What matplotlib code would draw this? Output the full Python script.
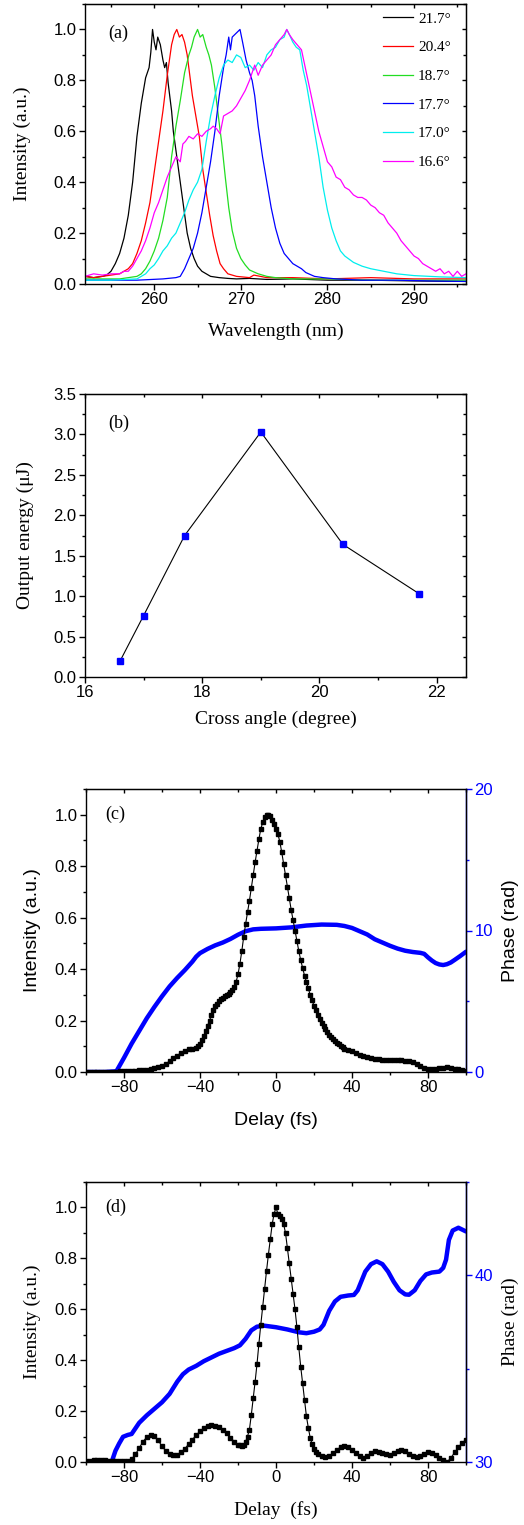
import numpy as np
import matplotlib
matplotlib.use("Agg")
import matplotlib.pyplot as plt
from matplotlib.ticker import MultipleLocator

SERIF = "Liberation Serif"
SANS = "Liberation Sans"
plt.rcParams["font.family"] = SANS

# ---------------- (a) spectra ----------------
wl_k = [252, 253, 254, 254.5, 255, 255.5, 256, 256.5, 257, 257.5,
        258, 258.5, 259, 259.4, 259.6, 259.8, 260.0, 260.2, 260.4, 260.7,
        261.0, 261.2, 261.4, 261.6, 262.0, 262.2, 262.6, 263.0, 263.4, 263.8,
        264.2, 264.6, 265.0, 265.5, 266.0, 266.5, 267.5, 268.5, 269.5, 271,
        273, 276, 280, 285, 290, 296]
in_k = [0.03, 0.025, 0.03, 0.035, 0.05, 0.08, 0.12, 0.18, 0.27, 0.40,
        0.58, 0.71, 0.81, 0.85, 0.91, 1.0, 0.95, 0.92, 0.97, 0.94,
        0.88, 0.85, 0.87, 0.79, 0.68, 0.60, 0.50, 0.40, 0.30, 0.20,
        0.14, 0.10, 0.07, 0.05, 0.04, 0.03, 0.025, 0.022, 0.02, 0.022,
        0.018, 0.02, 0.015, 0.015, 0.012, 0.01]

wl_r = [252, 253, 254, 255, 256, 256.5, 257, 257.5, 258, 258.5,
        259, 259.5, 260, 260.5, 261, 261.5, 262, 262.3, 262.6, 262.9,
        263.2, 263.5, 263.8, 264.1, 264.4, 264.8, 265.2, 265.6, 266.0, 266.4,
        266.8, 267.2, 267.6, 268.0, 268.5, 269.5, 271, 271.5, 273, 276,
        280, 285, 290, 296]
in_r = [0.03, 0.025, 0.03, 0.035, 0.04, 0.05, 0.06, 0.08, 0.12, 0.17,
        0.24, 0.32, 0.44, 0.56, 0.68, 0.82, 0.94, 0.98, 1.0, 0.97,
        0.98, 0.95, 0.90, 0.82, 0.74, 0.66, 0.58, 0.45, 0.36, 0.27,
        0.19, 0.13, 0.08, 0.06, 0.04, 0.03, 0.025, 0.035, 0.025, 0.025,
        0.02, 0.025, 0.02, 0.02]

wl_g = [252, 254, 256, 257, 258, 258.5, 259, 259.5, 260, 260.5,
        261, 261.5, 262, 262.5, 263, 263.5, 264, 264.3, 264.6, 265.0,
        265.3, 265.6, 266.0, 266.3, 266.6, 267.0, 267.4, 267.8, 268.2, 268.6,
        269.0, 269.5, 270, 270.5, 271, 272, 273, 274, 276, 280,
        285, 290, 296]
in_g = [0.02, 0.02, 0.02, 0.025, 0.03, 0.04, 0.06, 0.09, 0.13, 0.18,
        0.25, 0.34, 0.50, 0.62, 0.72, 0.83, 0.90, 0.93, 0.97, 1.0,
        0.97, 0.98, 0.93, 0.90, 0.86, 0.77, 0.66, 0.55, 0.42, 0.30,
        0.21, 0.14, 0.10, 0.075, 0.055, 0.04, 0.03, 0.025, 0.02, 0.02,
        0.015, 0.015, 0.015]

wl_b = [252, 255, 258, 261, 262.5, 263, 263.5, 264, 264.5, 265,
        265.5, 266, 266.5, 267, 267.5, 268, 268.3, 268.6, 268.8, 269.0,
        269.3, 269.6, 269.9, 270.2, 270.6, 271.0, 271.3, 271.6, 272.0, 272.5,
        273.0, 273.5, 274.0, 274.5, 275.0, 275.5, 276.0, 276.5, 277.0, 277.5,
        278.5, 279.5, 281, 284, 288, 292, 296]
in_b = [0.015, 0.015, 0.015, 0.02, 0.025, 0.03, 0.06, 0.10, 0.14, 0.20,
        0.28, 0.38, 0.48, 0.60, 0.74, 0.85, 0.90, 0.97, 0.92, 0.97,
        0.98, 0.99, 1.0, 0.95, 0.88, 0.83, 0.80, 0.74, 0.62, 0.50,
        0.40, 0.30, 0.22, 0.16, 0.12, 0.10, 0.08, 0.07, 0.06, 0.045,
        0.03, 0.025, 0.02, 0.015, 0.015, 0.012, 0.01]

wl_c = [252, 255, 258, 258.5, 259, 259.5, 260, 260.5, 261, 261.5,
        262, 262.5, 263, 263.5, 264, 264.5, 265, 265.5, 266, 266.5,
        267, 267.5, 268, 268.5, 269, 269.5, 270, 270.5, 271, 271.5,
        272, 272.5, 273, 273.5, 274, 274.5, 275, 275.3, 275.6, 276,
        276.4, 276.8, 277.2, 277.6, 278, 278.5, 279, 279.5, 280, 280.5,
        281, 281.5, 282, 283, 284, 285, 286.5, 288, 290, 293,
        296]
in_c = [0.015, 0.015, 0.02, 0.03, 0.04, 0.06, 0.075, 0.10, 0.13, 0.15,
        0.18, 0.20, 0.24, 0.28, 0.33, 0.37, 0.40, 0.45, 0.56, 0.66,
        0.74, 0.81, 0.86, 0.88, 0.87, 0.90, 0.89, 0.85, 0.86, 0.84,
        0.87, 0.85, 0.90, 0.92, 0.93, 0.96, 0.97, 1.0, 0.98, 0.95,
        0.93, 0.92, 0.84, 0.78, 0.70, 0.60, 0.50, 0.38, 0.29, 0.22,
        0.17, 0.13, 0.11, 0.085, 0.07, 0.06, 0.05, 0.04, 0.033, 0.028,
        0.025]

wl_m = [252, 253, 254, 255, 256, 256.5, 257, 257.5, 258, 258.5,
        259, 259.5, 260, 260.5, 261, 261.5, 262, 262.5, 263, 263.3,
        263.6, 264, 264.5, 265, 265.5, 266, 266.5, 266.8, 267.2, 267.6,
        268, 268.5, 269, 269.5, 270, 270.5, 271, 271.3, 271.6, 272,
        272.5, 273, 273.5, 274, 274.5, 275, 275.3, 275.6, 276, 276.5,
        277, 277.5, 278, 278.5, 279, 279.5, 280, 280.5, 281, 281.5,
        282, 282.5, 283, 283.5, 284, 284.5, 285, 285.5, 286, 286.5,
        287, 287.5, 288, 288.5, 289, 289.5, 290, 290.5, 291, 291.5,
        292, 292.5, 293, 293.5, 294, 294.5, 295, 295.5, 296]
in_m = [0.03, 0.04, 0.035, 0.04, 0.04, 0.05, 0.05, 0.07, 0.10, 0.13,
        0.17, 0.22, 0.28, 0.32, 0.37, 0.42, 0.46, 0.50, 0.48, 0.55,
        0.56, 0.58, 0.57, 0.59, 0.58, 0.60, 0.61, 0.62, 0.61, 0.59,
        0.66, 0.67, 0.68, 0.70, 0.73, 0.76, 0.80, 0.83, 0.86, 0.82,
        0.86, 0.88, 0.90, 0.94, 0.96, 0.98, 1.0, 0.98, 0.96, 0.94,
        0.92, 0.84, 0.76, 0.68, 0.60, 0.54, 0.48, 0.46, 0.42, 0.41,
        0.38, 0.37, 0.35, 0.34, 0.34, 0.33, 0.31, 0.30, 0.28, 0.27,
        0.24, 0.22, 0.20, 0.17, 0.15, 0.13, 0.11, 0.10, 0.08, 0.07,
        0.06, 0.05, 0.06, 0.04, 0.05, 0.03, 0.05, 0.03, 0.04]

spec_labels = ["21.7°", "20.4°", "18.7°", "17.7°", "17.0°", "16.6°"]
spec_colors = ["black", "#ff0000", "#22dd22", "#0000ff", "#00eeee", "#ff00ff"]

# ---------------- (b) energy ----------------
cross_angle = [16.6, 17.0, 17.7, 19.0, 20.4, 21.7]
out_energy = [0.20, 0.76, 1.75, 3.03, 1.64, 1.03]

# ---------------- (c) pulse ----------------
delay_c = np.concatenate([np.arange(-100, -41, 2), np.arange(-41, 36, 1), np.arange(36, 101, 2)])
inten_c = [0, 0, 0, 0, 0, 0, 0.001, 0.001, 0.001, 0.002,
           0.002, 0.003, 0.004, 0.005, 0.006, 0.007, 0.009, 0.011, 0.014, 0.018,
           0.024, 0.032, 0.042, 0.053, 0.064, 0.074, 0.082, 0.088, 0.091, 0.095,
           # -41 .. 35 step 1
           0.10, 0.11, 0.125, 0.14, 0.16, 0.18, 0.20, 0.22, 0.24, 0.255,
           0.265, 0.275, 0.282, 0.288, 0.294, 0.30, 0.305, 0.312, 0.32, 0.33,
           0.35, 0.38, 0.42, 0.47, 0.525, 0.575, 0.62, 0.665, 0.715, 0.765,
           0.815, 0.86, 0.905, 0.945, 0.97, 0.99, 1.0, 1.0, 0.995, 0.98,
           0.965, 0.945, 0.925, 0.895, 0.855, 0.81, 0.765, 0.72, 0.675, 0.63,
           0.59, 0.55, 0.51, 0.47, 0.435, 0.405, 0.375, 0.35, 0.325, 0.30,
           0.278, 0.258, 0.24, 0.223, 0.207, 0.192, 0.178, 0.166, 0.155, 0.145,
           0.136, 0.128, 0.12, 0.113, 0.107, 0.101, 0.096,
           # 36 .. 100 step 2
           0.09, 0.086, 0.08, 0.074, 0.068, 0.063, 0.058, 0.055, 0.052, 0.05,
           0.048, 0.047, 0.046, 0.046, 0.045, 0.045, 0.044, 0.043, 0.037, 0.03,
           0.023, 0.017, 0.013, 0.012, 0.013, 0.015, 0.017, 0.018, 0.016, 0.013,
           0.01, 0.007, 0.005]

phase_delay_c = [-100, -90, -84, -80, -76, -72, -68, -64, -60, -56,
                 -52, -48, -44, -42, -40, -36, -32, -28, -24, -20,
                 -16, -12, -8, 0, 8, 16, 24, 32, 36, 40,
                 44, 48, 52, 56, 60, 64, 68, 72, 76, 78,
                 80, 82, 84, 86, 88, 90, 92, 94, 97, 100]
phase_c = [0, 0, 0.05, 1.0, 2.0, 2.9, 3.8, 4.6, 5.35, 6.05,
           6.65, 7.2, 7.8, 8.15, 8.4, 8.7, 8.95, 9.15, 9.4, 9.7,
           9.95, 10.08, 10.12, 10.15, 10.22, 10.35, 10.42, 10.4, 10.32, 10.18,
           9.95, 9.72, 9.38, 9.15, 8.92, 8.72, 8.57, 8.48, 8.42, 8.35,
           8.1, 7.88, 7.7, 7.6, 7.56, 7.62, 7.74, 7.92, 8.2, 8.5]

# ---------------- (d) pulse ----------------
delay_d = np.concatenate([np.arange(-100, -21, 2), np.arange(-20, 23, 1), np.arange(24, 101, 2)])
inten_d = [0.004, 0.005, 0.006, 0.006, 0.006, 0.006, 0.005, 0.004, 0.003, 0.002,
           0.002, 0.004, 0.012, 0.03, 0.055, 0.08, 0.098, 0.107, 0.102, 0.085,
           0.062, 0.043, 0.031, 0.026, 0.029, 0.038, 0.052, 0.07, 0.088, 0.106,
           0.12, 0.132, 0.14, 0.144, 0.143, 0.137, 0.127, 0.113, 0.096, 0.08,
           # -20 .. 22 step 1
           0.068, 0.065, 0.064, 0.066, 0.08, 0.10, 0.127, 0.185, 0.25, 0.315,
           0.385, 0.465, 0.54, 0.61, 0.68, 0.75, 0.815, 0.875, 0.935, 0.975,
           1.0, 0.975, 0.965, 0.955, 0.935, 0.90, 0.84, 0.78, 0.72, 0.66,
           0.60, 0.53, 0.45, 0.375, 0.31, 0.245, 0.18, 0.135, 0.095, 0.07,
           0.052, 0.04, 0.032,
           # 24 .. 100 step 2
           0.024, 0.02, 0.024, 0.034, 0.047, 0.059, 0.064, 0.058, 0.046, 0.034,
           0.022, 0.016, 0.022, 0.034, 0.042, 0.04, 0.034, 0.03, 0.029, 0.034,
           0.042, 0.046, 0.043, 0.033, 0.022, 0.018, 0.024, 0.033, 0.038, 0.037,
           0.028, 0.017, 0.006, 0.0, 0.015, 0.038, 0.058, 0.075, 0.088]

phase_delay_d = [-86.5, -84.5, -82.5, -80.5, -78, -76, -74, -72, -68, -64,
                 -60, -56, -52, -49, -46, -42, -38, -34, -30, -26,
                 -22, -19, -16, -13, -10, -6, 0, 6, 12, 16,
                 20, 23, 25, 28, 31, 34, 38, 41, 43, 45,
                 47, 50, 53, 56, 59, 62, 65, 68, 70, 73,
                 76, 79, 82, 86, 88, 89.5, 91, 93, 96, 100]
phase_d = [30.0, 30.6, 31.0, 31.35, 31.45, 31.5, 31.8, 32.1, 32.5, 32.85,
           33.2, 33.65, 34.3, 34.7, 34.95, 35.15, 35.4, 35.6, 35.8, 35.95,
           36.1, 36.25, 36.6, 37.05, 37.25, 37.3, 37.22, 37.1, 36.95, 36.9,
           36.98, 37.1, 37.35, 38.1, 38.6, 38.85, 38.92, 38.95, 39.2, 39.7,
           40.2, 40.6, 40.75, 40.6, 40.2, 39.65, 39.2, 38.98, 38.96, 39.2,
           39.7, 40.05, 40.15, 40.2, 40.4, 40.84, 41.9, 42.4, 42.55, 42.35]

# ---------------- figure ----------------
W, H = 524, 1525
fig = plt.figure(figsize=(W / 100, H / 100), dpi=100)


def rect(l, t, r, b):
    return [l / W, 1 - b / H, (r - l) / W, (b - t) / H]


def style(ax, xmaj, xmin, ymaj, ymin, mirror_right=True):
    ax.xaxis.set_major_locator(MultipleLocator(xmaj))
    ax.xaxis.set_minor_locator(MultipleLocator(xmin))
    ax.yaxis.set_major_locator(MultipleLocator(ymaj))
    ax.yaxis.set_minor_locator(MultipleLocator(ymin))
    ax.tick_params(which="major", direction="out", length=4, width=1, labelsize=12, pad=2)
    ax.tick_params(which="minor", direction="out", length=2.5, width=1)
    for s in ax.spines.values():
        s.set_linewidth(1)
    top = ax.secondary_xaxis("top")
    top.xaxis.set_major_locator(MultipleLocator(xmaj))
    top.xaxis.set_minor_locator(MultipleLocator(xmin))
    top.tick_params(which="major", direction="in", length=3, width=1, labeltop=False)
    top.tick_params(which="minor", direction="in", length=2, width=1)
    if mirror_right:
        rt = ax.secondary_yaxis("right")
        rt.yaxis.set_major_locator(MultipleLocator(ymaj))
        rt.yaxis.set_minor_locator(MultipleLocator(ymin))
        rt.tick_params(which="major", direction="in", length=3, width=1, labelright=False)
        rt.tick_params(which="minor", direction="in", length=2, width=1)


def set_labels(ax, xl, yl, xfam, yfam, xy, yx, size=14):
    ax.set_xlabel(xl, family=xfam, fontsize=size, va="center")
    ax.set_ylabel(yl, family=yfam, fontsize=size, va="center")
    ax.xaxis.set_label_coords(0.5, xy)
    ax.yaxis.set_label_coords(yx, 0.5)


# (a)
axa = fig.add_axes(rect(85, 4, 466, 284))
spectra = [(wl_k, in_k), (wl_r, in_r), (wl_g, in_g), (wl_b, in_b), (wl_c, in_c), (wl_m, in_m)]
for (wx, wy), lab, col in zip(spectra, spec_labels, spec_colors):
    axa.plot(wx, wy, color=col, lw=0.9, label=lab)
axa.set_xlim(252, 296)
axa.set_ylim(0, 1.1)
style(axa, 10, 5, 0.2, 0.1)
set_labels(axa, "Wavelength (nm)", "Intensity (a.u.)", SERIF, SERIF, -0.168, -0.165)
axa.text(0.06, 0.895, "(a)", transform=axa.transAxes, family=SERIF, fontsize=13, va="center")
axa.legend(loc="upper left", bbox_to_anchor=(0.782, 0.972), frameon=False,
           prop={"family": SERIF, "size": 11}, handlelength=2.0, handletextpad=0.3,
           labelspacing=0.98, borderpad=0, borderaxespad=0)

# (b)
axb = fig.add_axes(rect(85, 394, 466, 677))
axb.plot(cross_angle, out_energy, color="black", lw=0.8, marker="s", ms=5,
         mfc="#0000ff", mec="#0000ff")
axb.set_xlim(16, 22.5)
axb.set_ylim(0, 3.5)
style(axb, 2, 1, 0.5, 0.25)
set_labels(axb, "Cross angle (degree)", "Output energy (μJ)", SERIF, SERIF, -0.15, -0.157)
axb.text(0.06, 0.898, "(b)", transform=axb.transAxes, family=SERIF, fontsize=13, va="center")


def pulse_panel(rc, delay, inten, pdelay, phase, plim, pmaj, pmin, lab, fam, xlabel):
    ax = fig.add_axes(rc)
    tw = ax.twinx()
    tw.plot(pdelay, phase, color="#0000ff", lw=3.2, solid_capstyle="round", solid_joinstyle="round")
    ax.plot(delay, inten, color="black", lw=0.8, marker="s", ms=2.6, mfc="black", mec="black")
    ax.set_zorder(tw.get_zorder() + 1)
    ax.patch.set_visible(False)
    ax.set_xlim(-100, 100)
    ax.set_ylim(0, 1.1)
    tw.set_ylim(*plim)
    style(ax, 40, 20, 0.2, 0.1, mirror_right=False)
    tw.yaxis.set_major_locator(MultipleLocator(pmaj))
    tw.yaxis.set_minor_locator(MultipleLocator(pmin))
    tw.tick_params(which="major", direction="out", length=4, width=1, colors="#0000ff",
                   labelsize=12, pad=2)
    tw.tick_params(which="minor", direction="out", length=2.5, width=1, colors="#0000ff")
    tw.spines["right"].set_color("#0000ff")
    tw.spines["right"].set_linewidth(1)
    for s in ["left", "top", "bottom"]:
        tw.spines[s].set_visible(False)
    for lbl in tw.get_yticklabels():
        lbl.set_family(SANS)
    set_labels(ax, xlabel, "Intensity (a.u.)", fam, fam, -0.17, -0.142)
    tw.set_ylabel("Phase (rad)", family=fam, fontsize=14, va="center", rotation=90, color="black")
    tw.yaxis.set_label_coords(1.116, 0.5)
    ax.text(0.05, 0.91, lab, transform=ax.transAxes, family=SERIF, fontsize=13, va="center")
    return ax, tw


pulse_panel(rect(86, 789, 466, 1072), delay_c, inten_c, phase_delay_c, phase_c,
            (0, 20), 10, 5, "(c)", SANS, "Delay (fs)")
pulse_panel(rect(86, 1182, 466, 1462), delay_d, inten_d, phase_delay_d, phase_d,
            (30, 45), 10, 5, "(d)", SERIF, "Delay  (fs)")

fig.savefig("out.png", dpi=100)
